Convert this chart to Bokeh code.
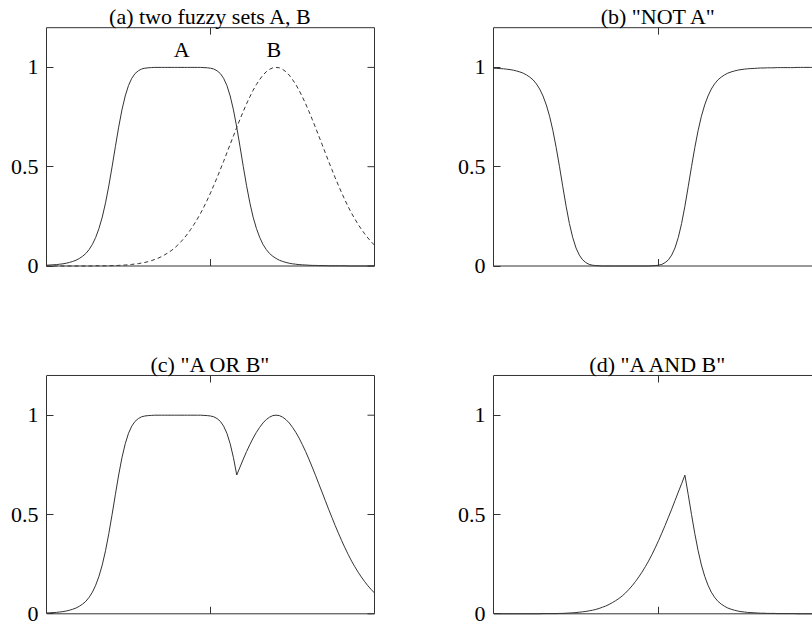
import numpy as np
from bokeh.plotting import figure
from bokeh.layouts import column, row
from bokeh.models import LinearAxis, FixedTicker, Range1d, Label
from bokeh.embed import file_html
from bokeh.resources import INLINE

# sample positions along the (unlabelled) x axis
x_vals = [round(i * 0.1, 1) for i in range(101)]

# membership of fuzzy set A (solid curve)
mu_A = [
    0.004, 0.005, 0.006, 0.007, 0.009, 0.011, 0.014, 0.018, 0.023, 0.029,
    0.038, 0.049, 0.063, 0.083, 0.109, 0.144, 0.189, 0.246, 0.318, 0.404,
    0.500, 0.601, 0.699, 0.786, 0.856, 0.909, 0.945, 0.969, 0.983, 0.992,
    0.996, 0.998, 0.999, 1.000, 1.000, 1.000, 1.000, 1.000, 1.000, 1.000,
    1.000, 1.000, 1.000, 1.000, 1.000, 1.000, 1.000, 1.000, 0.999, 0.998,
    0.996, 0.992, 0.983, 0.969, 0.945, 0.909, 0.856, 0.786, 0.699, 0.601,
    0.500, 0.404, 0.318, 0.246, 0.189, 0.144, 0.109, 0.083, 0.063, 0.049,
    0.038, 0.029, 0.023, 0.018, 0.014, 0.011, 0.009, 0.007, 0.006, 0.005,
    0.004, 0.003, 0.003, 0.002, 0.002, 0.002, 0.001, 0.001, 0.001, 0.001,
    0.001, 0.001, 0.000, 0.000, 0.000, 0.000, 0.000, 0.000, 0.000, 0.000,
    0.000,
]

# membership of fuzzy set B (dashed curve)
mu_B = [
    0.000, 0.000, 0.000, 0.000, 0.000, 0.000, 0.000, 0.000, 0.000, 0.000,
    0.000, 0.000, 0.000, 0.000, 0.000, 0.001, 0.001, 0.001, 0.001, 0.001,
    0.002, 0.002, 0.003, 0.004, 0.005, 0.006, 0.008, 0.010, 0.012, 0.015,
    0.018, 0.022, 0.027, 0.033, 0.039, 0.047, 0.056, 0.066, 0.077, 0.090,
    0.105, 0.122, 0.141, 0.162, 0.185, 0.210, 0.237, 0.266, 0.298, 0.332,
    0.368, 0.406, 0.445, 0.486, 0.527, 0.570, 0.613, 0.655, 0.698, 0.739,
    0.779, 0.817, 0.852, 0.885, 0.914, 0.939, 0.961, 0.978, 0.990, 0.998,
    1.000, 0.998, 0.990, 0.978, 0.961, 0.939, 0.914, 0.885, 0.852, 0.817,
    0.779, 0.739, 0.698, 0.655, 0.613, 0.570, 0.527, 0.486, 0.445, 0.406,
    0.368, 0.332, 0.298, 0.266, 0.237, 0.210, 0.185, 0.162, 0.141, 0.122,
    0.105,
]

titles = ["(a) two fuzzy sets A, B", '(b) "NOT A"', '(c) "A OR B"', '(d) "A AND B"']
y_ticks = [0, 0.5, 1]
y_tick_labels = {0: "0", 0.5: "0.5", 1: "1"}
x_mid_tick = 5
set_names = ["A", "B"]
set_label_x = [4.12, 6.93]

A = np.array(mu_A)
B = np.array(mu_B)
not_A = 1.0 - A
a_or_b = np.maximum(A, B)
a_and_b = np.minimum(A, B)

# ---- style / geometry ----
FONT = "Liberation Serif"
FS = "22px"
LINE = "#333333"
AX = "#333333"
X_MAX, Y_TOP = 10.0, 1.2
PX_X_A, PX_X_B = 32.8, 33.0      # pixels per x unit
PX_Y = 198.6                     # pixels per y unit
TICK = 7                         # tick length in px
BASE_FIX = 7                     # baseline correction for labels (px)


def make_panel(title, curves, full, bl, br, frame_w, frame_h, zero_px):
    pxx = PX_X_A if full else PX_X_B
    y0 = -(frame_h - zero_px) / PX_Y
    y1 = zero_px / PX_Y
    p = figure(frame_width=frame_w, frame_height=frame_h,
               x_range=Range1d(0, frame_w / pxx), y_range=Range1d(y0, y1),
               x_axis_location=None, y_axis_location=None,
               output_backend="svg", toolbar_location=None,
               min_border_left=bl, min_border_right=br,
               min_border_top=0, min_border_bottom=0)
    p.outline_line_color = None
    p.xgrid.visible = False
    p.ygrid.visible = False

    ax = LinearAxis(ticker=FixedTicker(ticks=y_ticks, minor_ticks=[]),
                    bounds=(0, Y_TOP),
                    major_tick_in=TICK, major_tick_out=0,
                    minor_tick_in=0, minor_tick_out=0,
                    axis_line_color=AX, axis_line_width=1,
                    major_tick_line_color=AX, major_tick_line_width=1,
                    major_label_text_font=FONT,
                    major_label_text_font_size=FS,
                    major_label_text_color="black",
                    major_label_standoff=8,
                    major_label_overrides=y_tick_labels)
    p.add_layout(ax, "left")

    x_right = X_MAX if full else frame_w / pxx + 1
    tx = TICK / pxx
    ty = TICK / PX_Y
    sx0 = [0, 0, x_mid_tick, x_mid_tick]
    sy0 = [0, Y_TOP, 0, Y_TOP]
    sx1 = [x_right, x_right, x_mid_tick, x_mid_tick]
    sy1 = [0, Y_TOP, ty, Y_TOP - ty]
    if full:
        sx0 += [X_MAX] + [X_MAX] * len(y_ticks)
        sy0 += [0] + y_ticks
        sx1 += [X_MAX] + [X_MAX - tx] * len(y_ticks)
        sy1 += [Y_TOP] + y_ticks
    p.segment(sx0, sy0, sx1, sy1, line_color=AX, line_width=1)

    for ys, dash in curves:
        p.line(x_vals, ys, line_color=LINE, line_width=1, line_dash=dash)

    p.add_layout(Label(x=x_mid_tick, y=Y_TOP, text=title, text_align="center",
                       text_baseline="alphabetic", y_offset=4 + BASE_FIX,
                       text_font=FONT, text_font_size=FS, text_color="black"))
    return p


# row 1: 310 px tall, row 2: 312 px tall
pa = make_panel(titles[0], [(A, "solid"), (B, "4 3")], True, 46, 32, 330, 268, 265.5)
for name, lx in zip(set_names, set_label_x):
    pa.add_layout(Label(x=lx, y=1.055, text=name, text_align="center",
                        text_baseline="alphabetic", y_offset=BASE_FIX,
                        text_font=FONT, text_font_size=FS, text_color="black"))
pb = make_panel(titles[1], [(not_A, "solid")], False, 85, 0, 319, 268, 265.5)
pc = make_panel(titles[2], [(a_or_b, "solid")], True, 46, 32, 330, 306, 303.3)
pd = make_panel(titles[3], [(a_and_b, "solid")], False, 85, 0, 319, 306, 303.3)

pa.min_border_bottom = 42
pb.min_border_bottom = 42
pc.min_border_bottom = 6
pd.min_border_bottom = 6

layout = column(row(pa, pb), row(pc, pd))
open("out.html", "w").write(file_html(layout, INLINE))
